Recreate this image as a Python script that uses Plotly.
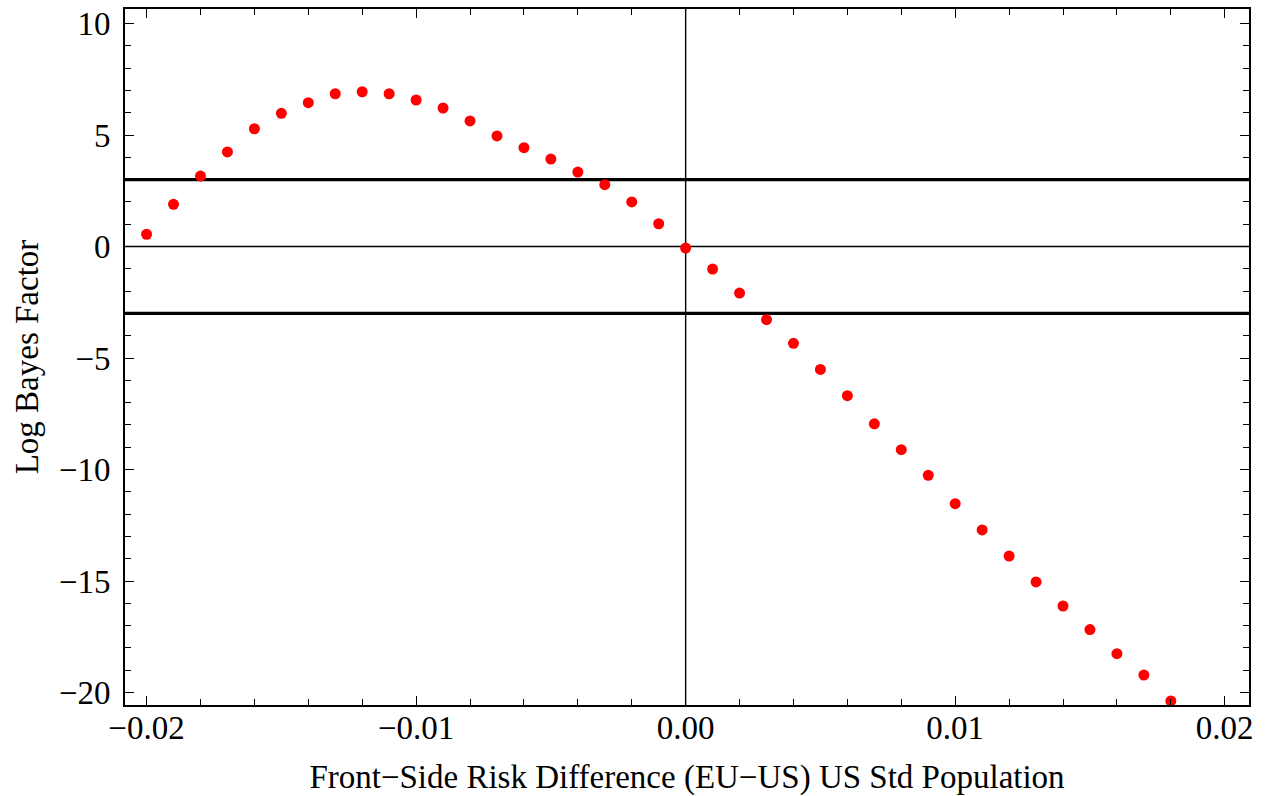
import plotly.graph_objects as go

# Data
x_values = [-0.020, -0.019, -0.018, -0.017, -0.016, -0.015, -0.014, -0.013, -0.012, -0.011,
            -0.010, -0.009, -0.008, -0.007, -0.006, -0.005, -0.004, -0.003, -0.002, -0.001,
            0.000, 0.001, 0.002, 0.003, 0.004, 0.005, 0.006, 0.007, 0.008, 0.009,
            0.010, 0.011, 0.012, 0.013, 0.014, 0.015, 0.016, 0.017, 0.018]
log_bayes = [0.55, 1.89, 3.16, 4.24, 5.28, 5.97, 6.45, 6.85, 6.94, 6.85,
             6.57, 6.21, 5.63, 4.96, 4.43, 3.92, 3.34, 2.77, 2.00, 1.02,
             -0.07, -1.01, -2.09, -3.28, -4.34, -5.51, -6.69, -7.95, -9.11, -10.26,
             -11.53, -12.71, -13.88, -15.04, -16.12, -17.18, -18.26, -19.22, -20.38]
threshold_lines = [3, -3]
zero_line = 0

FONT = "Liberation Serif"

fig = go.Figure()

for yv in threshold_lines:
    fig.add_hline(y=yv, line=dict(color="black", width=3.2), layer="below")
fig.add_hline(y=zero_line, line=dict(color="black", width=1.4), layer="below")
fig.add_vline(x=zero_line, line=dict(color="black", width=1.4), layer="below")

fig.add_trace(go.Scatter(
    x=x_values, y=log_bayes, mode="markers",
    marker=dict(color="#ff0000", size=11, line=dict(width=0)),
    showlegend=False, cliponaxis=True, hoverinfo="skip",
))

axis_common = dict(
    showline=True, linecolor="black", linewidth=1.8, mirror="ticks",
    ticks="inside", tickcolor="black", tickwidth=1.3, ticklen=9,
    showgrid=False, zeroline=False, automargin=False,
    ticklabeloverflow="allow",
    tickfont=dict(family=FONT, size=33, color="black"),
)

fig.update_xaxes(
    **axis_common,
    range=[-0.0208, 0.0209],
    tickmode="linear", tick0=0, dtick=0.01, tickformat=".2f",
    minor=dict(dtick=0.002, tick0=0, ticks="inside", ticklen=6, tickwidth=1.1, tickcolor="black", showgrid=False),
    ticklabelstandoff=-8,
    title=dict(text="Front\u2212Side Risk Difference (EU\u2212US) US Std Population",
               font=dict(family=FONT, size=33, color="black"), standoff=21),
)
fig.update_yaxes(
    **axis_common,
    range=[-20.56, 10.65],
    tickmode="linear", tick0=0, dtick=5,
    minor=dict(dtick=1, tick0=0, ticks="inside", ticklen=6, tickwidth=1.1, tickcolor="black", showgrid=False),
    ticklabelstandoff=6,
    title=dict(text="Log Bayes Factor", font=dict(family=FONT, size=33, color="black"), standoff=10),
)

fig.update_layout(
    width=1269, height=796,
    margin=dict(l=125, r=20, t=9, b=91),
    paper_bgcolor="white", plot_bgcolor="white",
    font=dict(family=FONT, color="black"),
)

fig.write_html("out.html", config={"displayModeBar": False},
               post_script="document.body.style.margin='0';")
